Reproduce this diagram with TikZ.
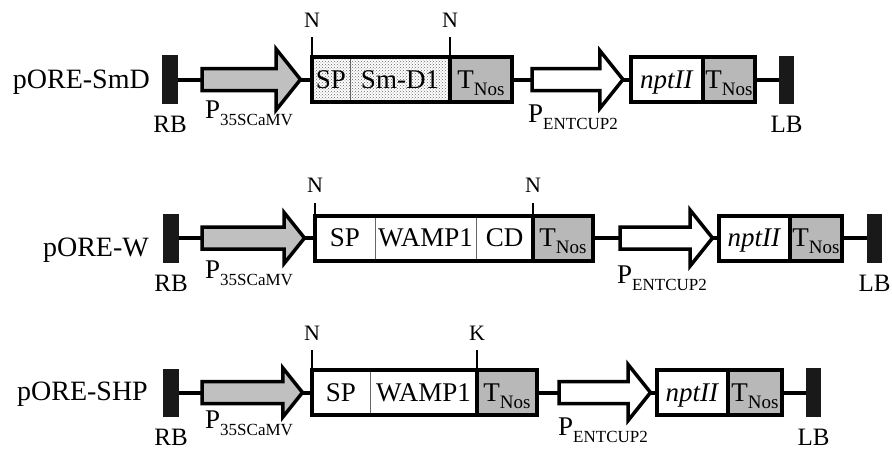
\documentclass[tikz,border=0pt]{standalone}
\usepackage{fontspec}
\setmainfont{Liberation Serif}
\usetikzlibrary{positioning,patterns}
\definecolor{nosgray}{RGB}{184,184,184}
\definecolor{camvgray}{RGB}{192,192,192}
\newcommand{\lowsub}[2][17]{\raisebox{-7pt}{\fontsize{#1}{#1}\selectfont #2}}
% name, fill, tail x, y, tip x, half head width
\newcommand{\promoterarrow}[6]{%
  \pgfmathsetmacro{\headx}{#5-0.8*#6}
  \coordinate (#1) at (#3,#4);
  \coordinate (#1 tip) at (#5,#4);
  \draw[promoter, fill=#2] (#3,#4-11) -- (\headx,#4-11) -- (\headx,#4-#6) -- (#1 tip)
    -- (\headx,#4+#6) -- (\headx,#4+11) -- (#3,#4+11) -- cycle;
}

\begin{document}
\begin{tikzpicture}[x=1pt,y=-1pt,
    border/.style={fill=black!90, inner sep=0pt, outer sep=0pt, minimum width=16pt, minimum height=49pt},
    link/.style={line width=4pt},
    tick/.style={line width=2.5pt},
    promoter/.style={line width=3.5pt},
    seg/.style={draw=black!60, line width=0.6pt, inner sep=0pt, outer sep=0pt, minimum height=45pt,
        text height=17.5pt, text depth=0pt, font=\fontsize{27}{27}\selectfont},
    smdseg/.style={seg, pattern=crosshatch dots, pattern color=black!60},
    gene/.style={seg, draw=black, line width=4pt},
    frame/.style={line width=4pt},
    vector/.style={font=\fontsize{28}{30}\selectfont, inner sep=0pt, anchor=base east},
    border label/.style={font=\fontsize{25}{25}\selectfont, inner sep=0pt, text depth=0pt},
    plabel/.style={font=\fontsize{27}{27}\selectfont, inner sep=0pt, anchor=base west},
    site/.style={font=\fontsize{22}{22}\selectfont, inner sep=0pt, text depth=0pt, above=8.5pt}
  ]
  \useasboundingbox (0,0) rectangle (892,450);

  % pORE-SmD
  \node[vector] (v1) at (150,88) {pORE-SmD};
  \node[border] (rb1) at (170,79.5) {};
  \promoterarrow{camv1}{camvgray}{202}{79.5}{300.5}{30.5}
  \node[smdseg, minimum width=38pt, anchor=west] (sp1) at (312,79.5) {SP};
  \node[smdseg, minimum width=100pt, right=0pt of sp1] (smd1) {Sm-D1};
  \node[gene, fill=nosgray, minimum width=62pt, right=0pt of smd1] (tnos1) {T\lowsub[19]{Nos}};
  \promoterarrow{ent1}{white}{532}{79.5}{623}{29}
  \node[gene, fill=white, minimum width=72pt, anchor=west] (npt1) at (631,79.5) {\textit{nptII}};
  \node[gene, fill=nosgray, minimum width=52pt, right=0pt of npt1] (tnos2) {T\lowsub[19]{Nos}};
  \node[border, minimum width=15pt, minimum height=48pt] (lb1) at (786.5,79.5) {};
  \draw[frame] (sp1.north west) rectangle (smd1.south east);
  \draw[link] (rb1) -- (camv1) (camv1 tip) -- (sp1.west) (tnos1.east) -- (ent1)
    (ent1 tip) -- (npt1.west) (tnos2.east) -- (lb1);
  \draw[tick] (sp1.north west) -- ++(0,-20) node[site] (n1a) {N};
  \draw[tick] (smd1.north east) -- ++(0,-20) node[site] (n1b) {N};
  \node[border label, below=12pt of rb1] (rb1l) {RB};
  \node[border label, below=12pt of lb1] (lb1l) {LB};
  \node[plabel] (camv1l) at (205,118) {P\lowsub{35SCaMV}};
  \node[plabel] (ent1l) at (528,122) {P\lowsub{ENTCUP2}};

  % pORE-W
  \node[vector] (v2) at (149,256) {pORE-W};
  \node[border] (rb2) at (171,238) {};
  \promoterarrow{camv2}{camvgray}{202}{238}{304.5}{25.5}
  \node[seg, minimum width=60pt, anchor=west] (sp2) at (315,238) {SP};
  \node[seg, minimum width=101pt, right=0pt of sp2] (wamp2) {WAMP1};
  \node[seg, minimum width=57pt, right=0pt of wamp2] (cd2) {CD};
  \node[gene, fill=nosgray, minimum width=60pt, right=0pt of cd2] (tnos3) {T\lowsub[19]{Nos}};
  \promoterarrow{ent2}{white}{620}{238}{712.5}{28}
  \node[gene, fill=white, minimum width=71pt, anchor=west] (npt2) at (719,238) {\textit{nptII}};
  \node[gene, fill=nosgray, minimum width=52pt, right=0pt of npt2] (tnos4) {T\lowsub[19]{Nos}};
  \node[border, minimum width=15pt] (lb2) at (874.5,238) {};
  \draw[frame] (sp2.north west) rectangle (cd2.south east);
  \draw[link] (rb2) -- (camv2) (camv2 tip) -- (sp2.west) (tnos3.east) -- (ent2)
    (ent2 tip) -- (npt2.west) (tnos4.east) -- (lb2);
  \draw[tick] (sp2.north west) -- ++(0,-13) node[site] (n2a) {N};
  \draw[tick] (cd2.north east) -- ++(0,-13) node[site] (n2b) {N};
  \node[border label, below=12pt of rb2] (rb2l) {RB};
  \node[border label, below=12pt of lb2] (lb2l) {LB};
  \node[plabel] (camv2l) at (205,278) {P\lowsub{35SCaMV}};
  \node[plabel] (ent2l) at (617,283) {P\lowsub{ENTCUP2}};

  % pORE-SHP
  \node[vector] (v3) at (148,400) {pORE-SHP};
  \node[border, minimum height=48pt] (rb3) at (171,392.5) {};
  \promoterarrow{camv3}{camvgray}{202}{392.5}{302.5}{24.5}
  \node[seg, minimum width=58pt, anchor=west] (sp3) at (312,392.5) {SP};
  \node[seg, minimum width=107pt, right=0pt of sp3] (wamp3) {WAMP1};
  \node[gene, fill=nosgray, minimum width=60pt, right=0pt of wamp3] (tnos5) {T\lowsub[19]{Nos}};
  \promoterarrow{ent3}{white}{559}{392.5}{650.5}{28}
  \node[gene, fill=white, minimum width=71pt, anchor=west] (npt3) at (657,392.5) {\textit{nptII}};
  \node[gene, fill=nosgray, minimum width=54pt, right=0pt of npt3] (tnos6) {T\lowsub[19]{Nos}};
  \node[border, minimum width=15pt] (lb3) at (813.5,392.5) {};
  \draw[frame] (sp3.north west) rectangle (wamp3.south east);
  \draw[link] (rb3) -- (camv3) (camv3 tip) -- (sp3.west) (tnos5.east) -- (ent3)
    (ent3 tip) -- (npt3.west) (tnos6.east) -- (lb3);
  \draw[tick] (sp3.north west) -- ++(0,-20) node[site] (n3a) {N};
  \draw[tick] (wamp3.north east) -- ++(0,-20) node[site] (k3) {K};
  \node[border label, below=12pt of rb3] (rb3l) {RB};
  \node[border label, below=12pt of lb3] (lb3l) {LB};
  \node[plabel] (camv3l) at (205,428) {P\lowsub{35SCaMV}};
  \node[plabel] (ent3l) at (558,435) {P\lowsub{ENTCUP2}};
\end{tikzpicture}
\end{document}
